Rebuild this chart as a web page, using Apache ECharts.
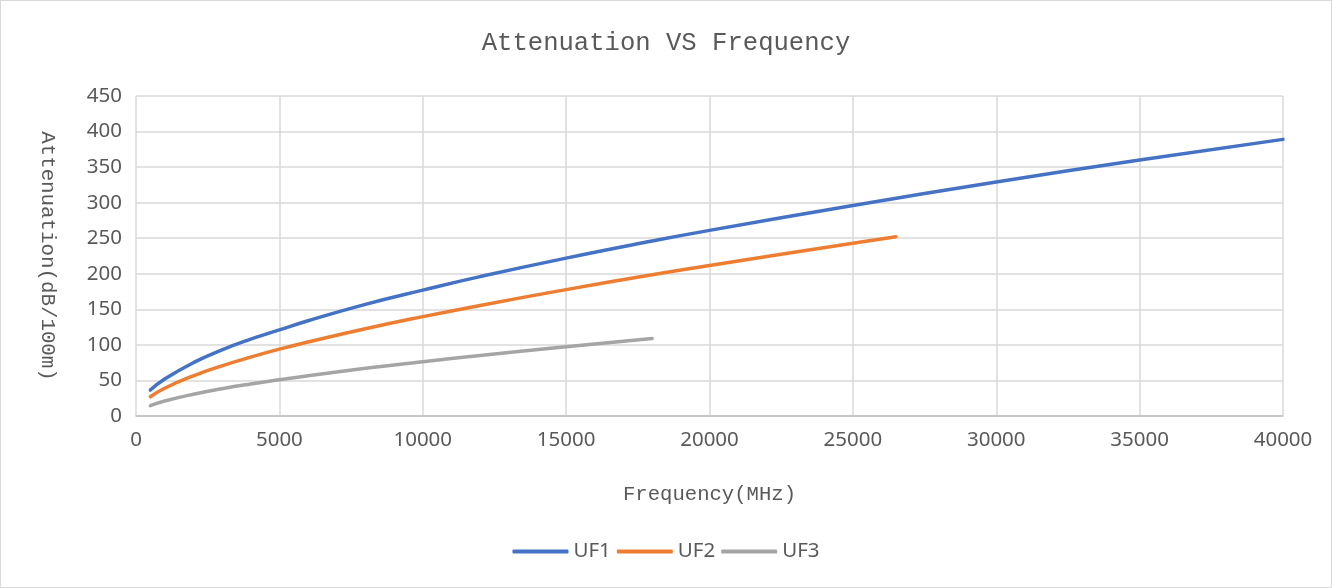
<!DOCTYPE html>
<html>
<head>
<meta charset="utf-8">
<script src="https://cdn.jsdelivr.net/npm/echarts@6/dist/echarts.min.js"></script>
<style>
  html, body { margin: 0; padding: 0; background: #fff; }
  #chart { width: 1330px; height: 586px; border: 1px solid #d9d9d9; }
</style>
</head>
<body>
<div id="chart"></div>
<script>
// frequencies (MHz)
const freqUF1 = [500, 1000, 2000, 3000, 4000, 5000, 6000, 8000, 10000, 12000, 15000, 18000, 20000, 25000, 30000, 35000, 40000]
const attUF1 = [36.5, 52, 75, 93, 108, 121, 134, 157, 177, 196, 222, 246, 261, 296, 329, 360, 389]

const freqUF2 = [500, 1000, 2000, 3000, 4000, 5000, 6000, 8000, 10000, 12000, 15000, 18000, 20000, 25000, 26500]
const attUF2 = [27, 39, 56.5, 70.6, 82.8, 94, 104, 122.7, 139.7, 155.5, 177.7, 198.5, 211.6, 243, 252]

const freqUF3 = [500, 1000, 2000, 3000, 4000, 5000, 6000, 8000, 10000, 12000, 15000, 18000]
const attUF3 = [14.6, 21.1, 30.6, 38.3, 45, 51, 56.7, 67, 76.4, 85.1, 97.5, 109]

const seriesNames = ['UF1', 'UF2', 'UF3']
const seriesColors = ['#4472C4', '#ED7D31', '#A5A5A5']

const pairs = (xs, ys) => xs.map((x, i) => [x, ys[i]])
const allData = [pairs(freqUF1, attUF1), pairs(freqUF2, attUF2), pairs(freqUF3, attUF3)]

const monoFont = '"Liberation Mono", "DejaVu Sans Mono", monospace'
const sansFont = '"Noto Sans", "Open Sans", sans-serif'

let chart = echarts.init(document.getElementById('chart'))
chart.setOption({
  animation: false,
  title: {
    text: 'Attenuation VS Frequency',
    left: 'center',
    top: 24,
    textStyle: { fontFamily: monoFont, fontSize: 25.6, fontWeight: 'normal', color: '#595959' }
  },
  legend: {
    bottom: 20,
    left: 'center',
    icon: 'roundRect',
    itemWidth: 56,
    itemHeight: 4,
    itemGap: 6,
    textStyle: { fontFamily: sansFont, fontSize: 20.5, color: '#595959' },
    data: seriesNames
  },
  grid: { left: 135, right: 48, top: 95, bottom: 171 },
  xAxis: {
    type: 'value',
    min: 0,
    max: 40000,
    interval: 5000,
    name: 'Frequency(MHz)',
    nameLocation: 'middle',
    nameGap: 68,
    nameTextStyle: { fontFamily: monoFont, fontSize: 20.6, color: '#595959' },
    axisLine: { show: true, lineStyle: { color: '#bfbfbf', width: 1.5 } },
    axisTick: { show: false },
    axisLabel: {
      margin: 14,
      fontFamily: sansFont,
      fontSize: 20.5,
      color: '#595959',
      formatter: v => String(v)
    },
    splitLine: { show: true, lineStyle: { color: '#d9d9d9', width: 1.5 } }
  },
  yAxis: {
    type: 'value',
    min: 0,
    max: 450,
    interval: 50,
    name: 'Attenuation(dB/100m)',
    nameLocation: 'middle',
    nameRotate: -90,
    nameGap: 78,
    nameTextStyle: { fontFamily: monoFont, fontSize: 20.8, color: '#595959' },
    axisLine: { show: false },
    axisTick: { show: false },
    axisLabel: { margin: 14, fontFamily: sansFont, fontSize: 20.5, color: '#595959' },
    splitLine: { show: true, lineStyle: { color: '#d9d9d9', width: 1.5 } }
  },
  series: seriesNames.map((name, i) => ({
    name: name,
    type: 'line',
    smooth: true,
    showSymbol: false,
    symbol: 'none',
    color: seriesColors[i],
    lineStyle: { width: 3.5, color: seriesColors[i], cap: 'round' },
    data: allData[i]
  }))
})
</script>
</body>
</html>
